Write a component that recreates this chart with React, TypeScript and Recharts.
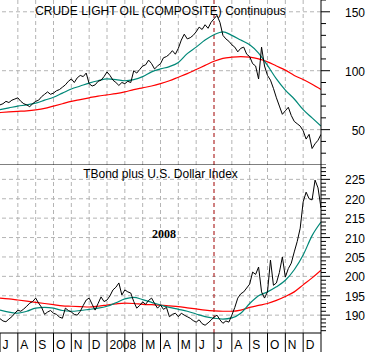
import React from 'react';
import { LineChart, Line, XAxis, YAxis, ReferenceLine } from 'recharts';

// Month tick labels, Jul 2007 .. Dec 2008 (last slot closes the axis)
const monthLabels = ['J', 'A', 'S', 'O', 'N', 'D', '2008', '', 'M', 'A', 'M', 'J', 'J', 'A', 'S', 'O', 'N', 'D', ''];

// Crude oil, six readings per month
const oilClose = [
  71, 72, 74, 73, 75, 76,
  77, 74, 72, 71, 69.5, 72,
  74, 75, 78, 80, 82, 80,
  81, 83, 84, 86, 88, 91,
  93, 90, 94, 96, 95, 98,
  89, 87, 88, 91, 92, 95,
  99, 96, 92, 90, 87.5, 90,
  89, 91, 90, 100, 98, 101,
  104, 105, 109, 106, 101.5, 104,
  106, 111, 112, 114, 117, 114,
  119, 126, 131, 127, 128, 130,
  133, 137, 135, 139, 136, 141,
  144, 147, 141, 130, 127, 125,
  122, 120, 116, 119, 120, 114,
  112, 106, 104, 93, 120, 104,
  96, 92, 85, 77, 70, 63,
  66, 69, 62, 57, 55, 53,
  49, 42, 46, 34, 38, 41,
  46,
];

// moving averages, two readings per month
const oilFast = [
  67, 68.5, 70, 71, 72.5, 75, 77.5, 81, 84.5, 87, 89.5, 91.5, 93, 92.5, 91.5, 92.5, 95, 99,
  101.5, 103.5, 107, 114.5, 120, 126, 130.5, 133, 130, 126, 122, 115, 104.5, 93, 83.5, 76, 67, 60, 53,
];
const oilSlow = [
  64.5, 65, 65.5, 66, 66.8, 68, 70, 72, 74, 75.5, 77, 78.5, 79.5, 80.5, 82, 84, 85.5, 87,
  89, 91.5, 94.5, 97.5, 101, 104.5, 108, 110.5, 111.5, 112, 111.5, 110, 107.5, 104, 100.5, 96, 92.5, 88.5, 84,
];

// TBond + US Dollar index, six readings per month
const bondClose = [
  189.1, 188.5, 188.3, 189.0, 189.6, 190.5,
  191.3, 191.0, 191.6, 192.3, 193.1, 193.5,
  194.4, 193.1, 192.0, 190.2, 190.8, 191.2,
  190.5, 190.2, 189.5, 189.2, 191.8, 191.2,
  190.8, 190.2, 190.0, 191.0, 192.5, 193.9,
  194.4, 192.8, 191.3, 193.0, 194.7, 193.5,
  193.9, 195.0, 196.5, 197.2, 198.3, 195.2,
  196.5, 196.0, 195.7, 193.5, 191.8, 192.5,
  193.4, 192.8, 193.8, 194.4, 193.0, 191.8,
  192.6, 191.5, 192.0, 189.6, 190.2, 190.5,
  189.6, 190.5, 190.0, 189.6, 189.2, 188.6,
  188.2, 188.8, 187.8, 187.4, 188.0, 188.7,
  189.5, 190.0, 188.8, 187.9, 188.5, 188.2,
  190.0, 192.0, 194.4, 195.5, 196.0, 197.0,
  198.0, 201.1, 200.5, 202.4, 196.0, 194.4,
  196.0, 204.2, 197.7, 198.3, 201.0, 205.0,
  199.8, 202.0, 203.4, 206.3, 209.0, 212.4,
  219.2, 221.7, 220.0, 219.7, 224.8, 222.8,
  217.6,
];
const bondFast = [
  191.3, 190.8, 190.5, 191.0, 191.8, 192.0, 191.8, 191.2, 191.0, 191.2, 191.5, 191.8, 192.3, 193.2, 194.2, 194.6, 194.0, 193.3,
  192.6, 192.0, 191.5, 191.0, 190.3, 189.6, 189.2, 189.0, 189.3, 190.5, 193.0, 195.0, 196.0, 197.3, 199.0, 201.7, 205.5, 210.5, 214.0,
];
const bondSlow = [
  194.4, 194.2, 193.9, 193.6, 193.3, 193.0, 192.7, 192.4, 192.3, 192.2, 192.1, 192.3, 192.6, 192.9, 193.1, 193.0, 192.8, 192.7,
  192.6, 192.4, 192.2, 191.9, 191.6, 191.3, 191.1, 191.0, 191.0, 191.3, 192.0, 192.5, 193.0, 193.8, 194.8, 196.0, 197.8, 199.6, 201.6,
];

const oilTicks = [20, 30, 40, 50, 60, 70, 80, 90, 100, 110, 120, 130, 140, 150, 160];
const oilGrid = [50, 100, 150];
const bondTicks = Array.from({ length: 43 }, (_, i) => 186 + i);
const bondGrid = [190, 195, 200, 205, 210, 215, 220, 225];
const monthTicks = monthLabels.map((_, i) => i);
const monthGrid = monthTicks.slice(1, 18).filter(m => m !== 12);
const markerMonth = 12; // July 2008

const series = (vals: number[], perMonth: number) => vals.map((v, i) => ({ m: i / perMonth, v }));

const FONT = '"Liberation Sans", Arial, sans-serif';
const GRID = '#b4b4b4';
const TEAL = '#008878';
const RED = '#ff0000';

const RightTick = ({ x, y, payload, major }: any) => {
  const isMajor = payload.value % major === 0;
  return (
    <g>
      <line x1={x} x2={x + (isMajor ? 9 : 5)} y1={y} y2={y} stroke="#000" />
      {isMajor && (
        <text x={x + 44} y={y + 1} textAnchor="end" dominantBaseline="central" fontSize={12} fontFamily={FONT} fill="#000">
          {payload.value}
        </text>
      )}
    </g>
  );
};

const MonthTick = ({ x, y, payload }: any) => (
  <g>
    <line x1={x} x2={x} y1={y} y2={y + 19} stroke="#000" />
    <text x={x + 2.5} y={y + 16} fontSize={12} fontFamily={FONT} fill="#000">
      {monthLabels[payload.value]}
    </text>
  </g>
);

const gridLines = (ys: number[]) => [
  ...ys.map(v => <ReferenceLine key={'h' + v} y={v} stroke={GRID} strokeDasharray="4 3" />),
  ...monthGrid.map(m => <ReferenceLine key={'v' + m} x={m} stroke={GRID} strokeDasharray="4 3" />),
  <ReferenceLine key="marker" x={markerMonth} stroke="#a00000" strokeDasharray="4 3" />,
];

const App: React.FC = () => {
  return (
    <div style={{ position: 'absolute', left: 0, top: 0, width: 370, height: 352, background: '#fff', fontFamily: FONT }}>
      <div style={{ position: 'absolute', left: 0, top: 0 }}>
        <LineChart width={370} height={165} margin={{ top: 0, right: 0, left: 0, bottom: 0 }}>
          <XAxis type="number" dataKey="m" domain={[0, 18]} hide allowDataOverflow />
          <YAxis
            orientation="right"
            width={49}
            domain={[20, 160]}
            ticks={oilTicks}
            interval={0}
            allowDataOverflow
            tickSize={0}
            tickMargin={0}
            tickLine={false}
            axisLine={{ stroke: '#000' }}
            tick={<RightTick major={50} />}
          />
          {gridLines(oilGrid)}
          <ReferenceLine y={20} stroke="#000" />
          <Line data={series(oilSlow, 2)} dataKey="v" type="monotone" stroke={RED} strokeWidth={1.2} dot={false} activeDot={false} isAnimationActive={false} />
          <Line data={series(oilFast, 2)} dataKey="v" type="monotone" stroke={TEAL} strokeWidth={1.2} dot={false} activeDot={false} isAnimationActive={false} />
          <Line data={series(oilClose, 6)} dataKey="v" type="linear" stroke="#000" strokeWidth={1} dot={false} activeDot={false} isAnimationActive={false} />
        </LineChart>
      </div>
      <div style={{ position: 'absolute', left: 0, top: 165 }}>
        <LineChart width={370} height={187} margin={{ top: 0, right: 0, left: 0, bottom: 0 }}>
          <XAxis
            type="number"
            dataKey="m"
            domain={[0, 18]}
            ticks={monthTicks}
            interval={0}
            allowDataOverflow
            height={19}
            tickSize={0}
            tickMargin={0}
            tickLine={false}
            axisLine={{ stroke: '#000' }}
            tick={<MonthTick />}
          />
          <YAxis
            orientation="right"
            width={49}
            domain={[185.4, 228.7]}
            ticks={bondTicks}
            interval={0}
            allowDataOverflow
            tickSize={0}
            tickMargin={0}
            tickLine={false}
            axisLine={{ stroke: '#000' }}
            tick={<RightTick major={5} />}
          />
          {gridLines(bondGrid)}
          <Line data={series(bondSlow, 2)} dataKey="v" type="monotone" stroke={RED} strokeWidth={1.2} dot={false} activeDot={false} isAnimationActive={false} />
          <Line data={series(bondFast, 2)} dataKey="v" type="monotone" stroke={TEAL} strokeWidth={1.2} dot={false} activeDot={false} isAnimationActive={false} />
          <Line data={series(bondClose, 6)} dataKey="v" type="linear" stroke="#000" strokeWidth={1} dot={false} activeDot={false} isAnimationActive={false} />
        </LineChart>
      </div>
      <div style={{ position: 'absolute', left: 0, width: 321, top: 4, textAlign: 'center', fontSize: 12, color: '#000', whiteSpace: 'nowrap' }}>
        CRUDE LIGHT OIL (COMPOSITE) Continuous
      </div>
      <div style={{ position: 'absolute', left: 0, width: 321, top: 167, textAlign: 'center', fontSize: 12, color: '#000', whiteSpace: 'nowrap' }}>
        TBond plus U.S. Dollar Index
      </div>
      <div style={{ position: 'absolute', left: 152, top: 227, fontSize: 12, fontWeight: 'bold', fontFamily: '"Liberation Serif", "Times New Roman", serif', color: '#000' }}>
        2008
      </div>
    </div>
  );
};

export default App;
